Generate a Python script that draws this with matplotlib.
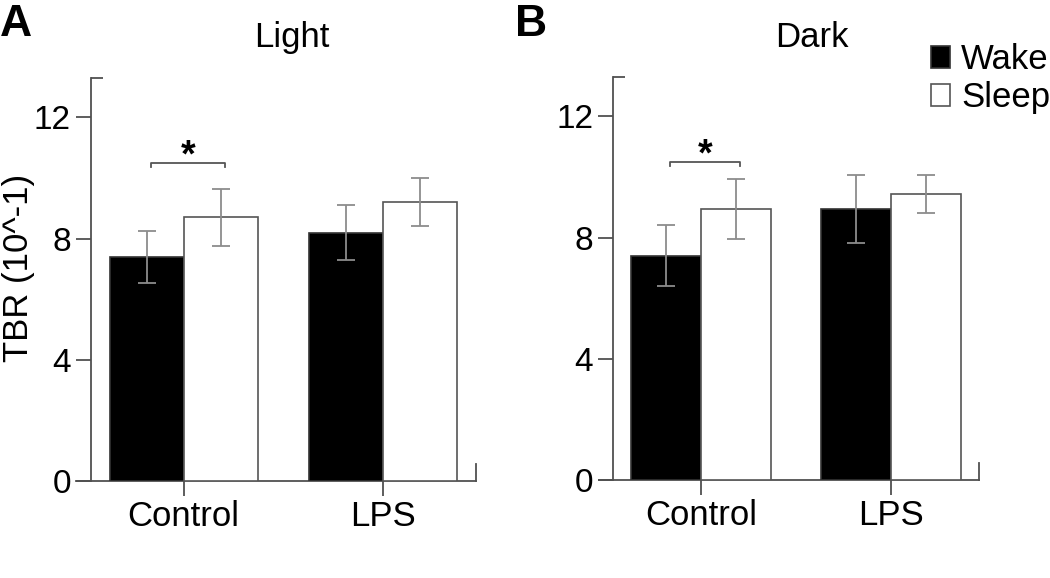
import numpy as np
import matplotlib.pyplot as plt
from matplotlib.ticker import FixedLocator

plt.rcParams['font.family'] = ['Liberation Sans', 'DejaVu Sans']

groups = ['Control', 'LPS']
series = ['Wake', 'Sleep']
yticks = [0, 4, 8, 12]

light_wake = [7.4, 8.2]
light_wake_err = [0.85, 0.9]
light_sleep = [8.7, 9.2]
light_sleep_err = [0.95, 0.8]

dark_wake = [7.4, 8.95]
dark_wake_err = [1.0, 1.13]
dark_sleep = [8.95, 9.45]
dark_sleep_err = [1.0, 0.63]

sig_level = 10.5

W, H = 1050, 578
fig = plt.figure(figsize=(W / 100, H / 100), dpi=100)

axis_col = '#505050'
err_col = '#8c8c8c'
ytop = 13.3


def panel(rect, wake, wake_err, sleep, sleep_err):
    l, b, r, t = rect
    ax = fig.add_axes([l / W, 1 - b / H, (r - l) / W, (b - t) / H])
    x = np.arange(len(groups))
    w = 0.37
    ekw = dict(ecolor=err_col, elinewidth=1.3, capsize=6.5, capthick=1.3, zorder=4)
    ax.bar(x - w / 2, wake, w, yerr=wake_err, color='black', edgecolor='#333333',
           linewidth=1.2, error_kw=ekw, label=series[0], zorder=3)
    ax.bar(x + w / 2, sleep, w, yerr=sleep_err, color='white', edgecolor='#555555',
           linewidth=1.2, error_kw=ekw, label=series[1], zorder=3)

    ax.set_xlim(-0.54, 1.465)
    ax.set_ylim(0, ytop)
    ax.spines['left'].set_position(('data', -0.465))
    ax.spines['top'].set_visible(False)
    ax.spines['right'].set_bounds(0, 0.55)
    for s in ['left', 'bottom', 'right']:
        ax.spines[s].set_color(axis_col)
        ax.spines[s].set_linewidth(1.3)

    ax.set_yticks(yticks)
    ax.set_xticks(x)
    ax.set_xticklabels(groups, fontsize=25)
    ax.yaxis.set_minor_locator(FixedLocator([ytop]))
    ax.tick_params(which='major', direction='out', length=10.5, width=1.3,
                   color=axis_col, labelsize=24, pad=4)
    ax.tick_params(which='major', axis='x', labelsize=25, pad=3)
    ax.tick_params(which='minor', axis='y', direction='in', length=8.5, width=1.3,
                   color=axis_col)

    # significance bracket on Control
    x0, x1 = -w / 2 + 0.02, w / 2 + 0.02
    ax.plot([x0, x0, x1, x1], [sig_level - 0.15, sig_level, sig_level, sig_level - 0.15],
            color='#555555', lw=1.3, zorder=5)
    ax.text((x0 + x1) / 2, sig_level - 0.4, '*', ha='center', va='bottom',
            fontsize=27, fontweight='bold')
    return ax


axA = panel((76, 481, 476, 78), light_wake, light_wake_err, light_sleep, light_sleep_err)
axB = panel((599, 480, 979, 77), dark_wake, dark_wake_err, dark_sleep, dark_sleep_err)

axA.set_ylabel('TBR (10^-1)', fontsize=25)
axA.yaxis.set_label_coords(35 / W, 1 - 268 / H, transform=fig.transFigure)

fig.text(292 / W, 1 - 47 / H, 'Light', ha='center', va='baseline', fontsize=25)
fig.text(812 / W, 1 - 47 / H, 'Dark', ha='center', va='baseline', fontsize=25)
fig.text(0 / W, 1 - 4 / H, 'A', ha='left', va='top', fontsize=32, fontweight='bold')
fig.text(515 / W, 1 - 4 / H, 'B', ha='left', va='top', fontsize=32, fontweight='bold')

axB.legend(loc='upper left', bbox_to_anchor=(931 / W, 1 - 43 / H),
           bbox_transform=fig.transFigure, frameon=False, fontsize=25,
           handlelength=0.55, handleheight=0.58, handletextpad=0.32,
           labelspacing=0.15, borderpad=0, borderaxespad=0)

fig.savefig('out.png', dpi=100)
